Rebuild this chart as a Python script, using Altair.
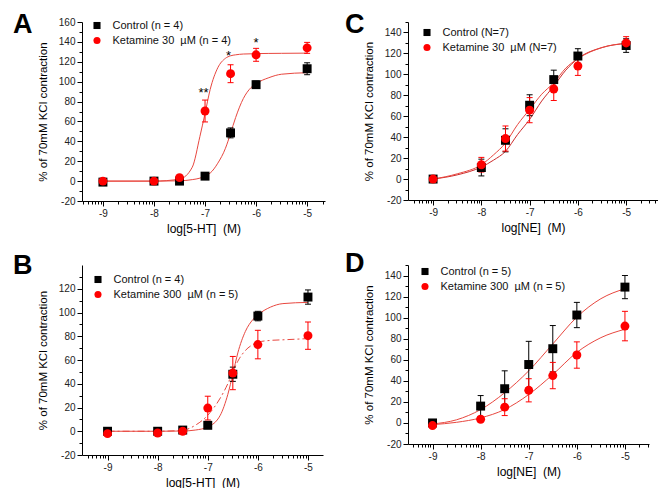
import math
import altair as alt
import pandas as pd

FONT = "Arial, Liberation Sans, sans-serif"
RED = "#ff0000"
CURVE = "#e8473f"

dose = [-9, -8, -7.5, -7, -6.5, -6, -5]

# ---------------- Panel A : 5-HT, ketamine 30 uM ----------------
a_labels = ["Control (n = 4)", "Ketamine 30 \u00a0\u00b5M (n = 4)"]
a_ctrl_mean = [-1, 0, 0, 5, 48.5, 97, 113]
a_ctrl_err = [0.5, 1, 1, 1.5, 5, 3.5, 6]
a_ket_mean = [0, 0, 3.5, 70.5, 108, 127, 134]
a_ket_err = [1, 1, 1.5, 11, 9, 6.5, 5.5]
a_curve_x = [-9, -8, -7.5, -7.25, -7.1, -7, -6.9, -6.75, -6.6, -6.5, -6.4, -6.25, -6.1, -6, -5.75, -5.5, -5]
a_curve_ctrl = [0, 0, 0.3, 1.5, 3, 5, 8, 18, 33, 48, 64, 83, 94, 98, 104, 107.5, 109]
a_curve_ket = [0, 0, 2, 14, 45, 68, 92, 114, 123.5, 126, 127, 127.8, 128, 128.2, 128.4, 128.5, 128.7]
a_star_x = [-7.03, -6.54, -6.0]
a_star_y = [88.6, 125.6, 139]
a_star_text = ["**", "*", "*"]

# ---------------- Panel B : 5-HT, ketamine 300 uM ----------------
b_labels = ["Control (n = 4)", "Ketamine 300 \u00a0\u00b5M (n = 5)"]
b_ctrl_mean = [0, 0, 1, 5, 48, 97, 113]
b_ctrl_err = [0.5, 0.5, 1, 1.5, 6, 4, 6]
b_ket_mean = [-2, -1.5, 0, 19.5, 49, 73, 80.5]
b_ket_err = [1, 1, 1, 10, 14, 12, 11.5]
b_curve_x = [-9, -8, -7.5, -7.25, -7, -6.75, -6.6, -6.5, -6.4, -6.25, -6.1, -6, -5.75, -5.5, -5]
b_curve_ctrl = [0, 0, 0.2, 1, 3.6, 13.5, 31, 48, 66, 84, 94, 98, 104.5, 107.5, 108.5]
b_curve_ket = [0, 0, 0.8, 5, 13.5, 28, 40, 50, 59, 68, 73, 75, 76.5, 77, 78]

# ---------------- Panel C : NE, ketamine 30 uM ----------------
c_labels = ["Control (N=7)", "Ketamine 30 \u00a0\u00b5M (N=7)"]
c_ctrl_mean = [0, 11, 37, 70.5, 95, 117.5, 127.5]
c_ctrl_err = [1, 8, 11, 10, 9, 7, 6.5]
c_ket_mean = [0, 13.7, 38.7, 65.8, 86, 108, 130]
c_ket_err = [1, 7, 12, 12, 11, 9, 6]
c_curve_x = [-9, -8.5, -8, -7.75, -7.5, -7.25, -7, -6.75, -6.5, -6.25, -6, -5.5, -5]
c_curve_ctrl = [0, 4, 11.5, 18, 26.5, 42.5, 57, 74.5, 88.8, 104, 115, 125.6, 129.5]
c_curve_ket = [0, 5, 13.7, 23, 34.5, 52, 66.5, 81, 92, 106, 115, 125.6, 129.7]

# ---------------- Panel D : NE, ketamine 300 uM ----------------
d_labels = ["Control (n = 5)", "Ketamine 300 \u00a0\u00b5M (n = 5)"]
d_ctrl_mean = [0, 16, 32.5, 55.5, 70.5, 102.5, 129]
d_ctrl_err = [1, 10, 17, 22, 22, 12, 11]
d_ket_mean = [-2.5, 3.5, 15, 31, 45, 64.5, 92]
d_ket_err = [1, 2, 8, 11, 12.5, 12.5, 14]
d_curve_x = [-9, -8.5, -8, -7.5, -7, -6.5, -6, -5.5, -5]
d_curve_ctrl = [-1, 3, 12.7, 28.7, 49.5, 75, 100.5, 118, 127.5]
d_curve_ket = [-1.6, 0.6, 4.8, 12.8, 27, 46, 67, 81, 89]

Y_TITLE = "% of 70mM KCl contraction"


def panel(letter, letter_xy, xdom, ydom, ytop_tick, w, h, xtitle,
          labels, ctrl_mean, ctrl_err, ket_mean, ket_err,
          cx, c_ctrl, c_ket, legend_xy, ket_dash=None, ctrl_curve_color=CURVE,
          stars=None):
    # axis tick positions (major + log-spaced minor on x, every 10 on y)
    xt = [d + math.log10(k) for d in range(-10, -4) for k in range(1, 10)]
    xt = [v for v in xt if xdom[0] <= v <= xdom[1]]
    yt = list(range(-20, ytop_tick + 1, 10))

    is_major_x = "abs(datum.value - round(datum.value)) < 1e-6"
    xaxis = alt.Axis(
        values=xt, title=xtitle, grid=False,
        labelExpr=f"{is_major_x} ? '' + round(datum.value) : ''",
        tickSize={"condition": {"test": is_major_x, "value": 5}, "value": 3},
        labelOverlap=False, labelFlush=False, labelPadding=2, titlePadding=5,
    )
    yaxis = alt.Axis(
        values=yt, title=Y_TITLE, grid=False,
        labelExpr="datum.value % 20 === 0 ? '' + datum.value : ''",
        tickSize={"condition": {"test": "datum.value % 20 === 0", "value": 5}, "value": 3},
        labelOverlap=False, labelPadding=2, titlePadding=10,
    )
    xs = alt.Scale(domain=xdom, nice=False, zero=False)
    ys = alt.Scale(domain=ydom, nice=False, zero=False)
    X = alt.X("x:Q", scale=xs, axis=xaxis)

    def group_df(mean, err, label):
        return pd.DataFrame({
            "x": dose, "mean": mean,
            "lo": [m - e for m, e in zip(mean, err)],
            "hi": [m + e for m, e in zip(mean, err)],
            "group": [label] * len(dose),
        })

    ctrl_df = group_df(ctrl_mean, ctrl_err, labels[0])
    ket_df = group_df(ket_mean, ket_err, labels[1])
    pts = pd.concat([ctrl_df, ket_df])

    def errbars(df, col):
        rule = alt.Chart(df).mark_rule(strokeWidth=1, color=col).encode(
            x=X, y=alt.Y("lo:Q", scale=ys, axis=yaxis), y2="hi:Q")
        lo = alt.Chart(df).mark_tick(orient="horizontal", size=6, thickness=1,
                                     opacity=1, color=col).encode(
            x=X, y=alt.Y("lo:Q", scale=ys, axis=yaxis))
        hi = alt.Chart(df).mark_tick(orient="horizontal", size=6, thickness=1,
                                     opacity=1, color=col).encode(
            x=X, y=alt.Y("hi:Q", scale=ys, axis=yaxis))
        return [rule, lo, hi]

    ctrl_curve = alt.Chart(pd.DataFrame({"x": cx, "y": c_ctrl})).mark_line(
        interpolate="monotone", strokeWidth=1, color=ctrl_curve_color
    ).encode(x=X, y=alt.Y("y:Q", scale=ys, axis=yaxis))
    ket_kw = dict(interpolate="monotone", strokeWidth=1, color=CURVE)
    if ket_dash:
        ket_kw["strokeDash"] = ket_dash
    ket_curve = alt.Chart(pd.DataFrame({"x": cx, "y": c_ket})).mark_line(**ket_kw).encode(
        x=X, y=alt.Y("y:Q", scale=ys, axis=yaxis))

    legend = alt.Legend(
        orient="none", legendX=legend_xy[0], legendY=legend_xy[1], title=None,
        labelFontSize=11, labelFont=FONT, labelColor="#111", symbolSize=50,
        padding=0, rowPadding=3, labelOffset=10, symbolStrokeWidth=0,
    )
    points = alt.Chart(pts).mark_point(filled=True, size=80, opacity=1).encode(
        x=X, y=alt.Y("mean:Q", scale=ys, axis=yaxis),
        color=alt.Color("group:N", scale=alt.Scale(domain=labels, range=["#000000", RED]),
                        legend=legend),
        shape=alt.Shape("group:N", scale=alt.Scale(domain=labels, range=["square", "circle"]),
                        legend=legend),
    )
    letter_mark = alt.Chart(pd.DataFrame({"t": [letter]})).mark_text(
        fontSize=27, fontWeight="bold", font=FONT, color="black",
        align="left", baseline="top",
    ).encode(text="t:N", x=alt.value(letter_xy[0]), y=alt.value(letter_xy[1]))

    layers = [ctrl_curve, ket_curve] + errbars(ctrl_df, "#000000") + errbars(ket_df, RED) + [points]
    if stars:
        sdf = pd.DataFrame({"x": stars[0], "y": stars[1], "t": stars[2]})
        layers.append(alt.Chart(sdf).mark_text(fontSize=13, font=FONT, color="black").encode(
            x=X, y=alt.Y("y:Q", scale=ys, axis=yaxis), text="t:N"))
    layers.append(letter_mark)

    return alt.layer(*layers).properties(width=w, height=h)


A = panel("A", (-69, -10), [-9.41, -4.65], [-20, 160], 160, 243, 179, "log[5-HT] \u00a0(M)",
          a_labels, a_ctrl_mean, a_ctrl_err, a_ket_mean, a_ket_err,
          a_curve_x, a_curve_ctrl, a_curve_ket, (9.5, -2),
          stars=(a_star_x, a_star_y, a_star_text))
C = panel("C", (-63, -10), [-9.52, -4.34], [-20, 150], 150, 250, 178, "log[NE] \u00a0(M)",
          c_labels, c_ctrl_mean, c_ctrl_err, c_ket_mean, c_ket_err,
          c_curve_x, c_curve_ctrl, c_curve_ket, (13.5, 5), ctrl_curve_color="#cc2a2a")
B = panel("B", (-69, -12), [-9.51, -4.70], [-20, 140], 130, 241, 190, "log[5-HT] \u00a0(M)",
          b_labels, b_ctrl_mean, b_ctrl_err, b_ket_mean, b_ket_err,
          b_curve_x, b_curve_ctrl, b_curve_ket, (10.5, 9), ket_dash=[7, 3, 2, 3])
D = panel("D", (-63, -14), [-9.51, -4.50], [-20, 150], 150, 241, 179, "log[NE] \u00a0(M)",
          d_labels, d_ctrl_mean, d_ctrl_err, d_ket_mean, d_ket_err,
          d_curve_x, d_curve_ctrl, d_curve_ket, (11.5, 1))

IND = dict(color="independent", shape="independent")
row1 = alt.hconcat(A, C, spacing=20).resolve_scale(**IND).resolve_legend(**IND)
row2 = alt.hconcat(B, D, spacing=22).resolve_scale(**IND).resolve_legend(**IND)

chart = alt.vconcat(row1, row2, spacing=16).resolve_scale(**IND).resolve_legend(**IND).properties(
    padding={"left": 5, "top": 3, "right": 0, "bottom": 0}
).configure_view(
    stroke=None
).configure_axis(
    domainColor="black", tickColor="black", domainWidth=1, tickWidth=1,
    labelFont=FONT, labelFontSize=10, labelColor="#222",
    titleFont=FONT, titleFontSize=12, titleFontWeight="normal", titleColor="black",
).configure_axisY(titleFontSize=11.5)

chart.save("out.html", embed_options={"renderer": "svg", "actions": False})
